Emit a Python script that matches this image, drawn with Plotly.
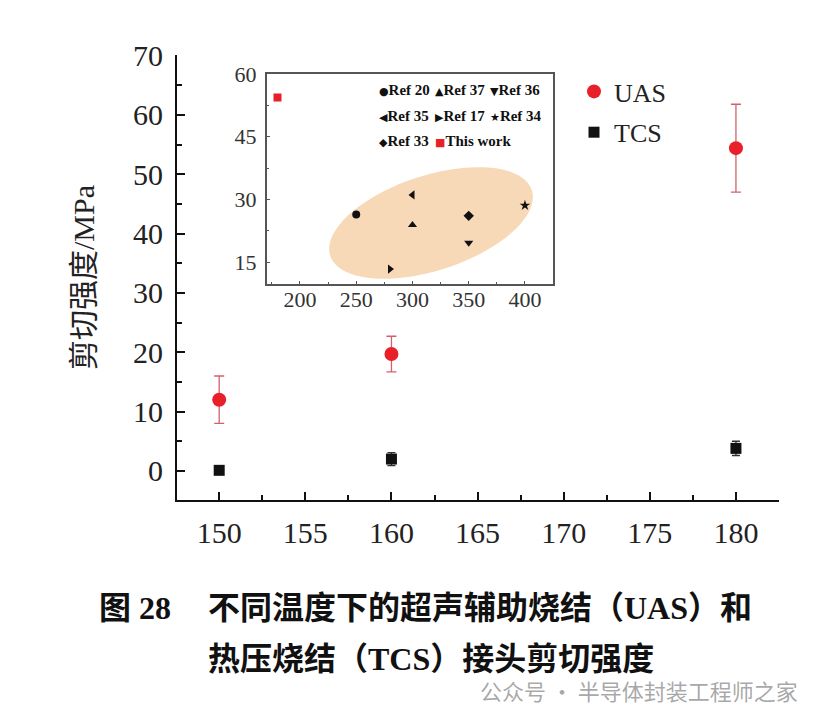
import numpy as np
import plotly.graph_objects as go

# main chart: shear strength vs sintering temperature
temps = [150, 160, 180]
uas_strength = [12.0, 19.7, 54.4]
uas_err = [4.0, 3.0, 7.4]
tcs_strength = [0.1, 2.0, 3.8]
tcs_err = [0.3, 1.1, 1.2]

# inset: comparison with literature
ref_names = ["Ref 20", "Ref 37", "Ref 36", "Ref 35", "Ref 17", "Ref 34", "Ref 33", "This work"]
ref_temps = [250, 300, 350, 300, 280, 400, 350, 180]
ref_strength = [26.4, 23.9, 19.7, 31.1, 13.4, 28.6, 26.1, 54.4]
ref_symbols = ["circle", "triangle-up", "triangle-down", "triangle-left",
               "triangle-right", "star", "diamond", "square"]
ref_glyphs = ["●", "▲", "▼", "◀", "▶", "★", "◆", "■"]
ref_colors = ["#111111"] * 7 + ["#e8202a"]

x_ticks = [150, 155, 160, 165, 170, 175, 180]
y_ticks = [0, 10, 20, 30, 40, 50, 60, 70]
inset_x_ticks = [200, 250, 300, 350, 400]
inset_y_ticks = [15, 30, 45, 60]

SERIF = "Times New Roman, Liberation Serif, Noto Sans CJK SC"

# page body has an 8px margin, so the figure is shrunk by that much
OFF = 8
W, H = 838 - OFF, 719 - OFF
ML, MT = 177 - OFF, 55 - OFF
PW, PH = 602, 445
MR, MB = W - ML - PW, H - MT - PH


def px_x(p):
    return (p - OFF - ML) / PW


def px_y(p):
    return (H - MB - (p - OFF)) / PH


fig = go.Figure()

fig.add_trace(go.Scatter(
    x=temps, y=uas_strength, mode="markers", name="UAS",
    marker=dict(symbol="circle", size=14, color="#e8202a"),
    error_y=dict(type="data", array=uas_err, color="#d4606c", thickness=1.3, width=5),
    legendgroup="uas",
))
fig.add_trace(go.Scatter(
    x=temps, y=tcs_strength, mode="markers", name="TCS",
    marker=dict(symbol="square", size=11, color="#111111"),
    error_y=dict(type="data", array=tcs_err, color="#333333", thickness=1.3, width=4),
    legendgroup="tcs",
))

# inset
for name, t, s, sym, c in zip(ref_names, ref_temps, ref_strength, ref_symbols, ref_colors):
    fig.add_trace(go.Scatter(
        x=[t], y=[s], mode="markers", name=name, showlegend=False,
        marker=dict(symbol=sym, size=8, color=c),
        xaxis="x2", yaxis="y2",
    ))

# shaded ellipse around literature values (pixel-space ellipse mapped to data)
inset_xr = [170.4, 425.2]
inset_yr = [9.75, 60]
ix0, ix1, iy0, iy1 = 266.7, 553.3, 74, 284.3
sx = (ix1 - ix0) / (inset_xr[1] - inset_xr[0])
sy = (iy1 - iy0) / (inset_yr[1] - inset_yr[0])
ecx, ecy = 316.5, 24.4
ea, eb, eth = 106, 47.5, np.radians(18)
tt = np.linspace(0, 2 * np.pi, 80)
ex = ecx + (ea * np.cos(tt) * np.cos(eth) - eb * np.sin(tt) * np.sin(eth)) / sx
ey = ecy + (ea * np.cos(tt) * np.sin(eth) + eb * np.sin(tt) * np.cos(eth)) / sy
path = "M " + " L ".join(f"{a:.2f},{b:.2f}" for a, b in zip(ex, ey)) + " Z"
fig.add_shape(type="path", path=path, xref="x2", yref="y2",
              fillcolor="#f7d9b8", line=dict(width=0), layer="below")

# inset legend (3 columns)
col_x = [383, 439, 494]
row_y = [90, 116, 141]
for i, (name, g, c) in enumerate(zip(ref_names, ref_glyphs, ref_colors)):
    r, k = divmod(i, 3)
    fig.add_annotation(
        x=px_x(col_x[k] - 6), y=px_y(row_y[r]), xref="paper", yref="paper",
        xanchor="left", yanchor="middle", showarrow=False,
        text=f"<span style='color:{c};font-family:DejaVu Sans;font-size:11px'>{g}</span><b>{name}</b>",
        font=dict(family=SERIF, size=15, color="#111111"),
    )

axis_common = dict(
    showgrid=False, zeroline=False, showline=True, linecolor="#111111", linewidth=2,
    ticks="inside", ticklen=8, tickwidth=1.6, tickcolor="#111111",
    tickfont=dict(family=SERIF, size=30, color="#222222"),
)
inset_common = dict(
    showgrid=False, zeroline=False, showline=True, linecolor="#555555", linewidth=1.5,
    mirror=True, ticks="inside", ticklen=4, tickwidth=1, tickcolor="#555555",
    tickfont=dict(family=SERIF, size=22, color="#333333"),
)

fig.update_layout(
    width=W, height=H,
    margin=dict(l=ML, r=MR, t=MT, b=MB),
    font=dict(family=SERIF),
    paper_bgcolor="white", plot_bgcolor="rgba(0,0,0,0)",
    xaxis=dict(range=[147.55, 182.5], tickvals=x_ticks, ticklabelstandoff=5,
               minor=dict(dtick=2.5, tick0=150, ticks="inside", ticklen=5, tickcolor="#111111"),
               **axis_common),
    yaxis=dict(range=[-4.9, 70.1], tickvals=y_ticks, ticklabelstandoff=6,
               minor=dict(dtick=5, tick0=0, ticks="inside", ticklen=5, tickcolor="#111111"),
               title=dict(text="剪切强度/MPa", standoff=30,
                          font=dict(family=SERIF, size=30, color="#222222")),
               **axis_common),
    xaxis2=dict(domain=[px_x(ix0), px_x(ix1)], anchor="y2", range=inset_xr,
                tickvals=inset_x_ticks, ticklabelstandoff=-5,
                minor=dict(dtick=25, tick0=200, ticks="inside", ticklen=3, tickcolor="#555555"),
                **inset_common),
    yaxis2=dict(domain=[px_y(iy1), px_y(iy0)], anchor="x2", range=inset_yr,
                tickvals=inset_y_ticks, ticklabelstandoff=4,
                minor=dict(dtick=7.5, tick0=15, ticks="inside", ticklen=3, tickcolor="#555555"),
                **inset_common),
    showlegend=True,
    legend=dict(x=px_x(574), y=px_y(68), xanchor="left", yanchor="top",
                bgcolor="rgba(0,0,0,0)", tracegroupgap=4,
                font=dict(family=SERIF, size=26, color="#222222")),
)

# caption
cap_font = dict(family=SERIF, size=32, color="#111111", weight="bold")
fig.add_annotation(x=px_x(97), y=px_y(608), xref="paper", yref="paper", xanchor="left",
                   yanchor="middle", showarrow=False, text="图 28", font=cap_font)
fig.add_annotation(x=px_x(206), y=px_y(608), xref="paper", yref="paper", xanchor="left",
                   yanchor="middle", showarrow=False, text="不同温度下的超声辅助烧结（UAS）和",
                   font=cap_font)
fig.add_annotation(x=px_x(206), y=px_y(659), xref="paper", yref="paper", xanchor="left",
                   yanchor="middle", showarrow=False, text="热压烧结（TCS）接头剪切强度",
                   font=cap_font)
fig.add_annotation(x=px_x(478), y=px_y(690), xref="paper", yref="paper", xanchor="left",
                   yanchor="middle", showarrow=False, text="公众号 · 半导体封装工程师之家",
                   font=dict(family="Noto Sans CJK SC", size=22, color="rgba(140,140,140,0.75)"))

fig.write_html("out.html")
